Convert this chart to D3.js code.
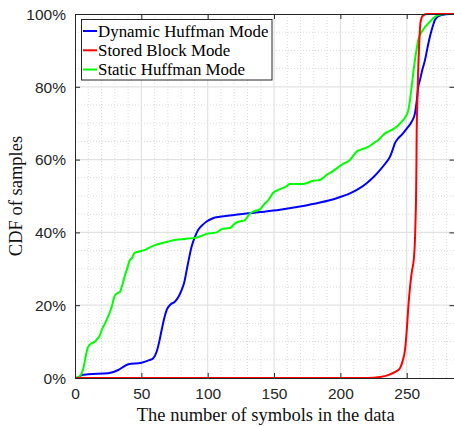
<!DOCTYPE html>
<html>
<head>
<meta charset="utf-8">
<script src="https://cdn.jsdelivr.net/npm/d3@7/dist/d3.min.js"></script>
<style>
  html, body { margin: 0; padding: 0; background: #fff; }
  svg { display: block; }
</style>
</head>
<body>
<svg id="chart" width="454" height="427"></svg>
<script>
// Number of symbols (x) and CDF in percent (y) for each deflate block mode
const dynamicSymbols = [0,3,5,10,25,32.6,37,40.2,50.2,56,59,61.5,63.5,65.3,67,69.1,72,75.4,78,80.4,82.5,84.2,86,87.9,90.4,93,96,99.2,104,109,120,129,140,154.5,169.6,184.6,197.2,207.2,214,219.8,225,229.8,234,237.4,239.5,241.1,243.5,246.2,250,253.7,256.2,257.5,258.7,260,262,263.8,265.5,267.5,269.5,271.3,273.5,276.3,282.6,286];
const dynamicCdf     = [0,0.2,0.8,1.0,1.3,2.2,3.2,3.8,4.2,4.9,5.4,7.2,10,13.2,16,18.7,20.2,21,22.3,24.2,26.5,29.7,33,36.1,38.8,40.8,42,43,43.9,44.3,44.8,45.2,45.6,46.2,47.1,48.2,49.4,50.7,52,53.5,55.2,57.1,59,60.8,62.8,64.5,65.8,66.8,68.5,70.4,72.7,76,80,81.9,85,87.4,90.5,93.8,96.5,98.4,99.3,99.7,100,100];

const storedSymbols = [0,220,230,236,241,244.9,246.8,248.7,250,251.2,252.5,253.7,255.5,256.2,256.6,257,257.3,257.5,258,258.7,259.4,260.5,262,265,286];
const storedCdf     = [0,0,0.3,0.8,1.6,2.7,4.5,7.7,13,19.6,25,28.8,33.3,37.9,43,48.9,58,67.2,76,85.5,92,98,99.5,100,100];

const staticSymbols = [0,3,5,6.5,7.5,9,10,12,15.1,17,18.8,20.5,22.6,24.5,26.4,28,29.6,31.5,33.9,36,37.5,39,41.4,43,44.7,47.7,52.8,56,60.3,65,70.3,75,80.4,85,90.4,95,99.2,103,106.8,110.5,116.8,120.6,124,128,131.9,135,139.4,142,145.7,149.4,154,159.5,162,172,179.6,184.6,187,189.7,193,197.2,202,207.2,212.3,216,221,225,228.6,231,233.6,238,242.4,245,247.4,249.5,251.2,252.5,253.7,255,256.2,257.5,258.7,261.3,264,267.5,270.5,273.8,280,286];
const staticCdf     = [0,0.3,1.3,3,4.9,7.5,8.6,9.4,10,10.8,11.8,13.5,15,16.5,18.2,20,22.3,23.2,23.7,26,28,29.7,32.4,33,34.3,34.7,35.2,35.8,36.5,37,37.5,37.9,38.1,38.3,38.5,39,39.6,39.8,40,40.9,41.2,42.5,43,43.4,45.2,45.8,46.3,47.5,48.9,50.9,51.8,52.7,53.3,53.3,54.2,54.4,55,55.8,56.5,57.6,58.8,59.9,62.2,62.8,63.5,64.5,65.4,66.3,67.2,68,69,70,70.9,72,73.6,76.5,80,84,87.4,90.5,92.9,95.1,96.5,97.9,99,99.7,100,100];

const seriesNames  = ["Dynamic Huffman Mode", "Stored Block Mode", "Static Huffman Mode"];
const seriesColors = ["#0000ff", "#ff0000", "#00ff00"];
const xTicks = [0, 50, 100, 150, 200, 250];
const yTicks = [0, 20, 40, 60, 80, 100];
const xMinorTicks = d3.range(0, 290, 10);
const yMinorTicks = d3.range(0, 101, 5);
const xTitle = "The number of symbols in the data";
const yTitle = "CDF of samples";

const series = [
  { name: seriesNames[0], color: seriesColors[0], pts: dynamicSymbols.map((s, i) => [s, dynamicCdf[i]]) },
  { name: seriesNames[1], color: seriesColors[1], pts: storedSymbols.map((s, i) => [s, storedCdf[i]]) },
  { name: seriesNames[2], color: seriesColors[2], pts: staticSymbols.map((s, i) => [s, staticCdf[i]]) }
];

const L = 75, R = 454.5, T = 14, B = 378;
const svg = d3.select("#chart");
const x = d3.scaleLinear().domain([0, 286]).range([L, R]);
const y = d3.scaleLinear().domain([0, 100]).range([B, T]);

const sans = "'Liberation Sans', Arial, Helvetica, sans-serif";
const serif = "'Liberation Serif', 'Times New Roman', serif";

// minor grid (dotted)
const grid = svg.append("g");
grid.selectAll(".vminor").data(xMinorTicks.filter(v => v % 50 !== 0)).enter().append("line")
  .attr("x1", d => x(d)).attr("x2", d => x(d)).attr("y1", T).attr("y2", B)
  .attr("stroke", "#dcdcdc").attr("stroke-width", 1).attr("stroke-dasharray", "1,2");
grid.selectAll(".hminor").data(yMinorTicks.filter(v => v % 20 !== 0)).enter().append("line")
  .attr("x1", L).attr("x2", R).attr("y1", d => y(d)).attr("y2", d => y(d))
  .attr("stroke", "#dcdcdc").attr("stroke-width", 1).attr("stroke-dasharray", "1,2");
// major grid (solid)
grid.selectAll(".vmajor").data(xTicks.filter(v => v > 0)).enter().append("line")
  .attr("x1", d => x(d)).attr("x2", d => x(d)).attr("y1", T).attr("y2", B)
  .attr("stroke", "#e2e2e2").attr("stroke-width", 1.2);
grid.selectAll(".hmajor").data(yTicks.filter(v => v > 0 && v < 100)).enter().append("line")
  .attr("x1", L).attr("x2", R).attr("y1", d => y(d)).attr("y2", d => y(d))
  .attr("stroke", "#e2e2e2").attr("stroke-width", 1.2);

// curves
const clip = svg.append("clipPath").attr("id", "plotclip").append("rect")
  .attr("x", L).attr("y", T - 2).attr("width", R - L).attr("height", B - T + 2);
const line = d3.line().x(d => x(d[0])).y(d => y(d[1])).curve(d3.curveMonotoneX);
const drawOrder = [0, 2, 1];
svg.append("g").attr("clip-path", "url(#plotclip)")
  .selectAll("path").data(drawOrder.map(i => series[i])).enter().append("path")
  .attr("d", d => line(d.pts))
  .attr("fill", "none").attr("stroke", d => d.color).attr("stroke-width", 2)
  .attr("stroke-linejoin", "round");

// axes (box with inward ticks)
const axisColor = "#262626";
const xAxis = d3.axisBottom(x).tickValues(xTicks).tickSizeInner(-5).tickSizeOuter(0).tickPadding(10);
const gx = svg.append("g").attr("transform", `translate(0,${B})`).call(xAxis);
const yAxis = d3.axisLeft(y).tickValues(yTicks).tickSizeInner(-5).tickSizeOuter(0).tickPadding(9)
  .tickFormat(d => d + "%");
const gy = svg.append("g").attr("transform", `translate(${L},0)`).call(yAxis);
const gxTop = svg.append("g").attr("transform", `translate(0,${T})`)
  .call(d3.axisTop(x).tickValues(xTicks).tickSizeInner(-5).tickSizeOuter(0).tickFormat(""));
const gyRight = svg.append("g").attr("transform", `translate(${R},0)`)
  .call(d3.axisRight(y).tickValues(yTicks).tickSizeInner(-5).tickSizeOuter(0).tickFormat(""));

[gx, gy, gxTop, gyRight].forEach(g => {
  g.select(".domain").attr("stroke", axisColor).attr("stroke-width", 1);
  g.selectAll(".tick line").attr("stroke", axisColor).attr("stroke-width", 1);
  g.selectAll(".tick text").attr("fill", "#262626").style("font-family", sans).style("font-size", "15.5px");
});
gx.selectAll(".tick text").attr("dy", "0.71em");
gy.selectAll(".tick text").attr("dy", "0.34em");

// axis titles
svg.append("text").attr("x", (L + R) / 2 + 1).attr("y", 421)
  .attr("text-anchor", "middle").style("font-family", serif).style("font-size", "18.5px")
  .attr("fill", "#111").text(xTitle);
svg.append("text").attr("transform", `translate(22,${(T + B) / 2}) rotate(-90)`)
  .attr("text-anchor", "middle").style("font-family", serif).style("font-size", "18.5px")
  .attr("fill", "#111").text(yTitle);

// legend
const lg = svg.append("g");
lg.append("rect").attr("x", 81.5).attr("y", 19.5).attr("width", 190.5).attr("height", 60.5)
  .attr("fill", "#fff").attr("stroke", axisColor).attr("stroke-width", 1);
const rowY = [31, 50.3, 69.5];
series.forEach((s, i) => {
  lg.append("line").attr("x1", 83).attr("x2", 97).attr("y1", rowY[i]).attr("y2", rowY[i])
    .attr("stroke", s.color).attr("stroke-width", 2);
  lg.append("text").attr("x", 98).attr("y", rowY[i]).attr("dy", "0.35em")
    .style("font-family", serif).style("font-size", "16.9px").attr("fill", "#000").text(s.name);
});
</script>
</body>
</html>
